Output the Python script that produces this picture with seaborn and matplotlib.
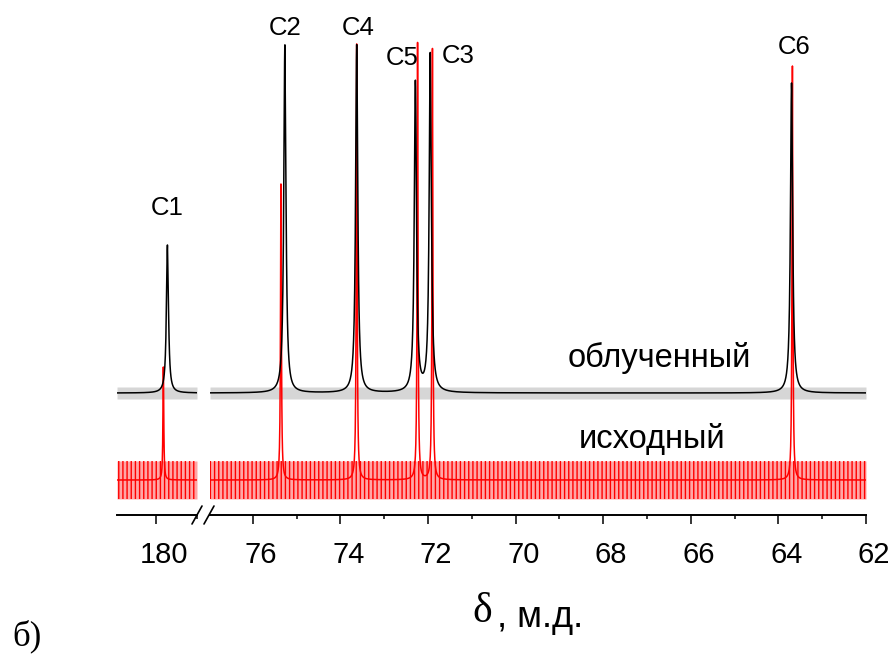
import numpy as np
import pandas as pd
import matplotlib
matplotlib.use("Agg")
import matplotlib.pyplot as plt
import matplotlib.transforms as mtransforms
from matplotlib.lines import Line2D
from matplotlib.ticker import MultipleLocator
import seaborn as sns

sns.set_theme(style="white")
plt.rcParams['font.family'] = ['Liberation Sans', 'DejaVu Sans']
plt.rcParams['text.color'] = 'black'
plt.rcParams['xtick.color'] = 'black'
plt.rcParams['xtick.labelcolor'] = 'black'
plt.rcParams['hatch.linewidth'] = 1.0

# ---------------- data ----------------
peak_labels = ["C1", "C2", "C4", "C5", "C3", "C6"]
irradiated_ppm = [179.72, 75.27, 73.63, 72.29, 71.95, 63.70]
irradiated_height = [148, 348, 348, 310, 338, 310]
original_ppm = [179.82, 75.36, 73.63, 72.24, 71.90, 63.68]
original_height = [113, 296, 436, 437, 431, 414]
irradiated_offset = 87          # vertical shift of the irradiated trace
noise_irradiated = 6            # half amplitude of baseline noise
noise_original = 19
label_ppm = [179.725, 75.27, 73.60, 72.60, 71.32, 63.63]
label_y = [272, 452, 452, 422, 424, 433]
left_segment = (180.95, 179.0)
right_segment = (76.98, 62.0)
series_names = ["облученный", "исходный"]
major_ticks_left = [180]
major_ticks_right = [76, 74, 72, 70, 68, 66, 64, 62]

hwhm = {"облученный": 0.03, "исходный": 0.012}


def spectrum(grid, ppm, height, width, offset):
    y = np.zeros_like(grid) + offset
    for p, h in zip(ppm, height):
        y += h / (1.0 + ((grid - p) / width) ** 2)
    return y


frames = []
for seg_name, (a, b) in [("left", left_segment), ("right", right_segment)]:
    grid = np.union1d(np.linspace(b, a, 6000),
                      [p for p in irradiated_ppm + original_ppm if b <= p <= a])
    frames.append(pd.DataFrame({
        "ppm": grid, "segment": seg_name, "series": series_names[0],
        "intensity": spectrum(grid, irradiated_ppm, irradiated_height,
                              hwhm[series_names[0]], irradiated_offset)}))
    frames.append(pd.DataFrame({
        "ppm": grid, "segment": seg_name, "series": series_names[1],
        "intensity": spectrum(grid, original_ppm, original_height,
                              hwhm[series_names[1]], 0.0)}))
df = pd.concat(frames, ignore_index=True)

# ---------------- figure ----------------
W, H = 892, 655
fig = plt.figure(figsize=(W / 100, H / 100), dpi=100)
bottom = (H - 515) / H
height = 475 / H
ax1 = fig.add_axes([117 / W, bottom, 80 / W, height])
ax2 = fig.add_axes([210 / W, bottom, 656 / W, height])

palette = {series_names[0]: "black", series_names[1]: "#ff0000"}
for ax, seg, (a, b) in [(ax1, "left", left_segment), (ax2, "right", right_segment)]:
    sub = df[df.segment == seg]
    # baseline noise envelopes
    s = sub[sub.series == series_names[0]]
    ax.fill_between(s.ppm, irradiated_offset - noise_irradiated,
                    irradiated_offset + noise_irradiated, color="black",
                    alpha=0.16, linewidth=0)
    s = sub[sub.series == series_names[1]]
    ax.fill_between(s.ppm, -noise_original, noise_original, color="#ff0000",
                    alpha=0.35, linewidth=0)
    ax.fill_between(s.ppm, -noise_original, noise_original, facecolor="none",
                    edgecolor="#ff0000", hatch="||||", linewidth=0)
    sns.lineplot(data=sub, x="ppm", y="intensity", hue="series", palette=palette,
                 estimator=None, sort=True, ax=ax, legend=False,
                 linewidth=1.1, hue_order=[series_names[1], series_names[0]])
    ax.set_xlim(a, b)
    ax.set_ylim(-35, 440)
    ax.set_xlabel("")
    ax.set_ylabel("")
    ax.set_yticks([])
    for sp in ["top", "left", "right"]:
        ax.spines[sp].set_visible(False)
    ax.spines["bottom"].set_linewidth(1.4)
    ax.spines["bottom"].set_color("black")
    ax.xaxis.set_minor_locator(MultipleLocator(1))
    ax.tick_params(axis="x", which="major", direction="out", length=6.5, width=1.1,
                   color="black", labelsize=21, pad=12, bottom=True)
    ax.tick_params(axis="x", which="minor", direction="out", length=3.2, width=1.1,
                   color="black", bottom=True)
    ax.patch.set_alpha(0)

ax1.set_xticks(major_ticks_left)
ax1.set_xticklabels([str(t) for t in major_ticks_left])
ax2.set_xticks(major_ticks_right)
ax2.set_xticklabels([str(t) for t in major_ticks_right])

offset = mtransforms.ScaledTranslation(8 / 100, 0, fig.dpi_scale_trans)
for ax in (ax1, ax2):
    for lab in ax.get_xticklabels():
        lab.set_transform(lab.get_transform() + offset)

# peak labels
for lab, x, y in zip(peak_labels, label_ppm, label_y):
    ax = ax1 if x > 100 else ax2
    ax.text(x, y, lab, ha="center", va="center", fontsize=18.5, clip_on=False)

# series labels
ax2.text(66.73, 113, series_names[0], ha="center", va="baseline", fontsize=23.5)
ax2.text(66.89, 32, series_names[1], ha="center", va="baseline", fontsize=23.5)

# break marks on the axis
for x0 in (192, 204):
    fig.add_artist(Line2D([x0 / W, (x0 + 10) / W], [(H - 524) / H, (H - 506) / H],
                          color="black", linewidth=1.2))

# axis title and panel label
fig.text(482 / W, (H - 612) / H, "δ", ha="center", va="center", fontsize=30,
         family=["Liberation Serif", "DejaVu Serif"])
fig.text(497 / W, (H - 627) / H, ", м.д.", ha="left", va="baseline", fontsize=26)
fig.text(12 / W, (H - 636) / H, "б)", ha="left", va="center", fontsize=25,
         family=["Liberation Serif", "DejaVu Serif"])

fig.savefig("out.png", dpi=100)
